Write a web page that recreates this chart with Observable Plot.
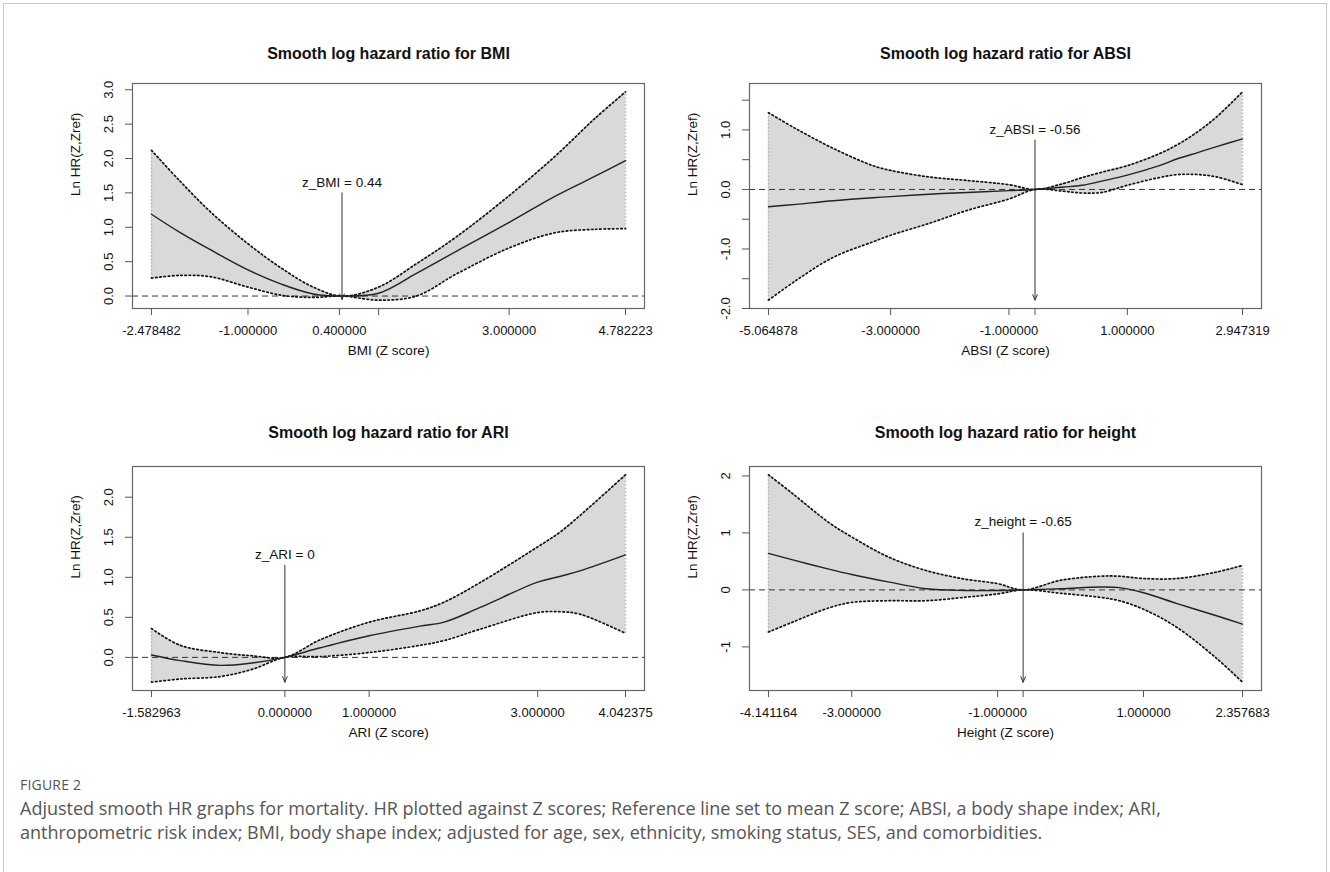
<!DOCTYPE html>
<html><head><meta charset="utf-8">
<script src="https://cdn.jsdelivr.net/npm/d3@7"></script>
<script src="https://cdn.jsdelivr.net/npm/@observablehq/plot@0.6"></script>
<style>
body{margin:0;background:#fff;}
#root{position:relative;width:1330px;height:872px;overflow:hidden;background:#fff;}
#frame{position:absolute;left:3px;top:3px;width:1322px;height:900px;border:1px solid #c8c8c8;}
.panel{position:absolute;}
#fig{position:absolute;left:20px;top:775px;font-family:"Open Sans",sans-serif;font-size:14px;color:#555;letter-spacing:0.2px;}
#cap{position:absolute;left:20px;top:796px;width:1185px;font-family:"Open Sans",sans-serif;font-size:18px;line-height:24px;color:#555;}
</style></head>
<body>
<div id="root">
  <div id="frame"></div>
  <div id="p1" class="panel" style="left:10px;top:10px"></div>
  <div id="p2" class="panel" style="left:670px;top:10px"></div>
  <div id="p3" class="panel" style="left:10px;top:395px"></div>
  <div id="p4" class="panel" style="left:670px;top:395px"></div>
  <div id="fig">FIGURE 2</div>
  <div id="cap">Adjusted smooth HR graphs for mortality. HR plotted against Z scores; Reference line set to mean Z score; ABSI, a body shape index; ARI, anthropometric risk index; BMI, body shape index; adjusted for age, sex, ethnicity, smoking status, SES, and comorbidities.</div>
</div>
<script>
// ---------- BMI ----------
const bmiX      = [-2.478482, -2.05, -1.57, -1.0, -0.48, 0.0, 0.44, 1.0, 1.58, 2.19, 3.0, 3.7, 4.31, 4.782223];
const bmiUpper  = [2.12, 1.68, 1.22, 0.76, 0.40, 0.13, 0.0, 0.13, 0.47, 0.86, 1.46, 2.03, 2.58, 2.97];
const bmiCenter = [1.19, 0.93, 0.67, 0.38, 0.17, 0.03, 0.0, 0.04, 0.33, 0.65, 1.07, 1.45, 1.74, 1.97];
const bmiLower  = [0.26, 0.30, 0.28, 0.13, 0.01, -0.02, 0.0, -0.06, 0.0, 0.32, 0.70, 0.92, 0.97, 0.98];
const bmiXTicks = [-2.478482, -1, 0.4, 1, 3, 4.782223];
const bmiXTickLabels = ["-2.478482", "-1.000000", "0.400000", "", "3.000000", "4.782223"];
const bmiYTicks = [0, 0.5, 1, 1.5, 2, 2.5, 3];
const bmiYTickLabels = ["0.0", "0.5", "1.0", "1.5", "2.0", "2.5", "3.0"];
const bmiRef = 0.44, bmiRefLabel = "z_BMI = 0.44", bmiLabelY = 1.65, bmiArrowTop = 1.5, bmiArrowBottom = -0.05;

// ---------- ABSI ----------
const absiX      = [-5.064878, -4.6, -3.97, -3.3, -3.0, -2.35, -1.7, -1.0, -0.56, -0.08, 0.24, 0.57, 1.0, 1.54, 1.86, 2.19, 2.51, 2.947319];
const absiUpper  = [1.29, 1.02, 0.69, 0.40, 0.32, 0.21, 0.15, 0.08, 0.0, 0.10, 0.20, 0.29, 0.40, 0.60, 0.76, 0.97, 1.22, 1.64];
const absiCenter = [-0.29, -0.25, -0.19, -0.14, -0.12, -0.08, -0.05, -0.02, 0.0, 0.04, 0.07, 0.14, 0.24, 0.40, 0.52, 0.62, 0.72, 0.85];
const absiLower  = [-1.86, -1.53, -1.14, -0.88, -0.77, -0.57, -0.35, -0.16, 0.0, -0.03, -0.06, -0.05, 0.07, 0.20, 0.25, 0.25, 0.21, 0.08];
const absiXTicks = [-5.064878, -3, -1, -0.56, 1, 2.947319];
const absiXTickLabels = ["-5.064878", "-3.000000", "-1.000000", "", "1.000000", "2.947319"];
const absiYTicks = [-2, -1.5, -1, -0.5, 0, 0.5, 1, 1.5];
const absiYTickLabels = ["-2.0", "", "-1.0", "", "0.0", "", "1.0", ""];
const absiRef = -0.56, absiRefLabel = "z_ABSI = -0.56", absiLabelY = 1.01, absiArrowTop = 0.83, absiArrowBottom = -1.86;

// ---------- ARI ----------
const ariX      = [-1.582963, -1.24, -0.77, -0.39, 0.0, 0.42, 1.0, 1.6, 1.89, 2.31, 3.0, 3.26, 3.5, 4.042375];
const ariUpper  = [0.36, 0.15, 0.06, 0.02, 0.0, 0.22, 0.44, 0.58, 0.69, 0.93, 1.38, 1.56, 1.77, 2.28];
const ariCenter = [0.03, -0.04, -0.10, -0.07, 0.0, 0.12, 0.27, 0.39, 0.44, 0.62, 0.94, 1.01, 1.08, 1.28];
const ariLower  = [-0.31, -0.27, -0.24, -0.15, 0.0, 0.01, 0.06, 0.15, 0.21, 0.35, 0.56, 0.57, 0.54, 0.30];
const ariXTicks = [-1.582963, 0, 1, 3, 4.042375];
const ariXTickLabels = ["-1.582963", "0.000000", "1.000000", "3.000000", "4.042375"];
const ariYTicks = [0, 0.5, 1, 1.5, 2];
const ariYTickLabels = ["0.0", "0.5", "1.0", "1.5", "2.0"];
const ariRef = 0, ariRefLabel = "z_ARI = 0", ariLabelY = 1.28, ariArrowTop = 1.15, ariArrowBottom = -0.31;

// ---------- Height ----------
const hX      = [-4.141164, -3.82, -3.3, -3.0, -2.5, -1.98, -1.45, -1.0, -0.65, -0.13, 0.4, 0.67, 1.0, 1.46, 1.99, 2.357683];
const hUpper  = [2.02, 1.70, 1.17, 0.93, 0.58, 0.34, 0.19, 0.11, 0.0, 0.17, 0.24, 0.24, 0.20, 0.20, 0.31, 0.43];
const hCenter = [0.64, 0.53, 0.36, 0.27, 0.14, 0.02, -0.01, -0.01, 0.0, 0.02, 0.05, 0.04, -0.05, -0.24, -0.45, -0.60];
const hLower  = [-0.74, -0.57, -0.31, -0.22, -0.19, -0.19, -0.13, -0.07, 0.0, -0.06, -0.13, -0.19, -0.34, -0.66, -1.19, -1.62];
const hXTicks = [-4.141164, -3, -1, -0.65, 1, 2.357683];
const hXTickLabels = ["-4.141164", "-3.000000", "-1.000000", "", "1.000000", "2.357683"];
const hYTicks = [-1, 0, 1, 2];
const hYTickLabels = ["-1", "0", "1", "2"];
const hRef = -0.65, hRefLabel = "z_height = -0.65", hLabelY = 1.20, hArrowTop = 1.0, hArrowBottom = -1.62;

const yTitle = "Ln HR(Z,Zref)";

function ext(vals) {
  const [a, b] = d3.extent(vals);
  const p = (b - a) * 0.04;
  return [a - p, b + p];
}

function panel(el, o) {
  const rows = o.x.map((x, i) => ({x, hi: o.upper[i], c: o.center[i], lo: o.lower[i]}));
  const ends = [rows[0], rows[rows.length - 1]];
  const xMap = new Map(o.xTicks.map((t, i) => [t, o.xTickLabels[i]]));
  const yMap = new Map(o.yTicks.map((t, i) => [t, o.yTickLabels[i]]));
  const arrow = [{x: o.ref, y1: o.arrowTop, y2: o.arrowBottom, label: o.refLabel, ly: o.labelY}];
  const curve = "catmull-rom";
  const chart = Plot.plot({
    width: 650, height: 370,
    marginTop: o.mt, marginBottom: o.mb, marginLeft: o.ml, marginRight: o.mr,
    style: {fontFamily: "'Liberation Sans', Arial, sans-serif", fontSize: "13px", color: "#111", background: "transparent", overflow: "visible"},
    x: {domain: ext(o.x)},
    y: {domain: ext([...o.lower, ...o.upper])},
    marks: [
      Plot.areaY(rows, {x: "x", y1: "lo", y2: "hi", fill: "#d9d9d9", curve}),
      Plot.ruleX(ends, {x: "x", y1: "lo", y2: "hi", stroke: "#b5b5b5", strokeWidth: 1.5, strokeDasharray: "1.5,2"}),
      Plot.ruleY([0], {stroke: "#333", strokeWidth: 1, strokeDasharray: "6,4"}),
      Plot.line(rows, {x: "x", y: "hi", stroke: "#111", strokeWidth: 1.7, strokeDasharray: "1.6,2.6", curve}),
      Plot.line(rows, {x: "x", y: "lo", stroke: "#111", strokeWidth: 1.7, strokeDasharray: "1.6,2.6", curve}),
      Plot.line(rows, {x: "x", y: "c", stroke: "#222", strokeWidth: 1.4, curve}),
      Plot.arrow(arrow, {x1: "x", x2: "x", y1: "y1", y2: "y2", stroke: "#333", strokeWidth: 1, headLength: 9, headAngle: 45}),
      Plot.text(arrow, {x: "x", y: "ly", text: "label", fontSize: 13.5, fill: "#111"}),
      Plot.frame({stroke: "#666", strokeWidth: 1.2}),
      Plot.axisX({ticks: o.xTicks, tickFormat: d => xMap.get(d), tickSize: 7, tickPadding: 10, label: null, stroke: "#555"}),
      Plot.axisY({ticks: o.yTicks, tickFormat: d => yMap.get(d), tickSize: 7, tickPadding: 13, tickRotate: -90, label: null, stroke: "#555"}),
      Plot.text([o.title], {frameAnchor: "top", dy: o.titleDy, fontWeight: "bold", fontSize: 16, text: d => d, fill: "#111"}),
      Plot.text([o.xLabel], {frameAnchor: "bottom", dy: 46, fontSize: 13.5, text: d => d, fill: "#111"}),
      Plot.text([yTitle], {frameAnchor: "left", dx: -57, rotate: -90, fontSize: 13.5, text: d => d, fill: "#111"})
    ]
  });
  document.getElementById(el).appendChild(chart);
}

const topM = {mt: 73, mb: 72, titleDy: -36};
const botM = {mt: 71, mb: 75, titleDy: -40};
const leftM = {ml: 122, mr: 16};
const rightM = {ml: 79, mr: 59};

panel("p1", {x: bmiX, upper: bmiUpper, center: bmiCenter, lower: bmiLower, xTicks: bmiXTicks, xTickLabels: bmiXTickLabels,
  yTicks: bmiYTicks, yTickLabels: bmiYTickLabels, ref: bmiRef, refLabel: bmiRefLabel, labelY: bmiLabelY, arrowTop: bmiArrowTop, arrowBottom: bmiArrowBottom,
  title: "Smooth log hazard ratio for BMI", xLabel: "BMI (Z score)", ...topM, ...leftM});
panel("p2", {x: absiX, upper: absiUpper, center: absiCenter, lower: absiLower, xTicks: absiXTicks, xTickLabels: absiXTickLabels,
  yTicks: absiYTicks, yTickLabels: absiYTickLabels, ref: absiRef, refLabel: absiRefLabel, labelY: absiLabelY, arrowTop: absiArrowTop, arrowBottom: absiArrowBottom,
  title: "Smooth log hazard ratio for ABSI", xLabel: "ABSI (Z score)", ...topM, ...rightM});
panel("p3", {x: ariX, upper: ariUpper, center: ariCenter, lower: ariLower, xTicks: ariXTicks, xTickLabels: ariXTickLabels,
  yTicks: ariYTicks, yTickLabels: ariYTickLabels, ref: ariRef, refLabel: ariRefLabel, labelY: ariLabelY, arrowTop: ariArrowTop, arrowBottom: ariArrowBottom,
  title: "Smooth log hazard ratio for ARI", xLabel: "ARI (Z score)", ...botM, ...leftM});
panel("p4", {x: hX, upper: hUpper, center: hCenter, lower: hLower, xTicks: hXTicks, xTickLabels: hXTickLabels,
  yTicks: hYTicks, yTickLabels: hYTickLabels, ref: hRef, refLabel: hRefLabel, labelY: hLabelY, arrowTop: hArrowTop, arrowBottom: hArrowBottom,
  title: "Smooth log hazard ratio for height", xLabel: "Height (Z score)", ...botM, ...rightM});
</script>
</body></html>
